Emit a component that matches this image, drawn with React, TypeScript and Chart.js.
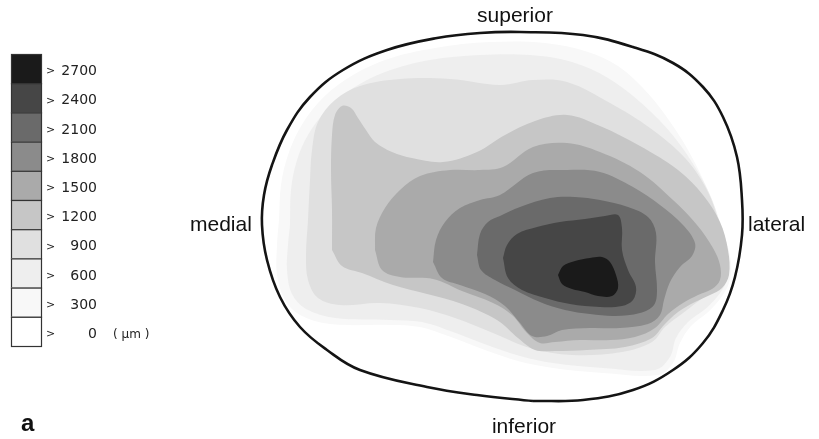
import { useEffect, useRef } from 'react';
import { Chart, registerables } from 'chart.js';

Chart.register(...registerables);

// Thickness classes (µm) shown in the key, lowest first
const levels = [0, 300, 600, 900, 1200, 1500, 1800, 2100, 2400, 2700];
const levelColors = ['#ffffff', '#f8f8f8', '#eeeeee', '#e0e0e0', '#c6c6c6', '#aaaaaa', '#8b8b8b', '#6a6a6a', '#464646', '#1a1a1a'];

// Map coordinates of the joint surface (x: medial→lateral, y: superior→inferior)
const outline: [number, number][] = [[533,401],[583,400],[633,390],[673,370],[703,343],[723,310],[735,277],[742,235],[742,200],[737,157],[723,117],[703,87],[673,63],[633,47],[583,35],[520,32],[480,33],[437,38],[387,50],[343,70],[310,97],[287,130],[272,165],[264,195],[262,225],[267,260],[280,297],[300,327],[327,350],[360,370],[427,387],[477,395]];

// Iso-thickness contours (outer boundary of each class)
const contour300: [number, number][] = [[279,220],[281,185],[288,155],[300,128],[318,103],[345,80],[385,60],[435,48],[490,42],[545,43],[588,52],[618,66],[643,88],[666,116],[688,150],[707,188],[722,228],[731,262],[729,283],[720,299],[707,313],[691,326],[680,343],[673,363],[658,375],[603,373],[553,368],[518,361],[485,350],[451,337],[420,327],[390,325],[330,324],[300,315],[285,300],[277,275],[277,245]];
const contour600: [number, number][] = [[290,225],[291,190],[297,160],[308,135],[325,112],[350,90],[385,72],[430,60],[480,55],[530,55],[572,62],[608,78],[640,102],[670,132],[695,167],[713,202],[723,237],[727,262],[726,282],[717,297],[704,310],[688,322],[676,338],[670,357],[655,370],[603,368],[553,363],[520,356],[487,345],[453,332],[422,322],[390,320],[335,318],[306,309],[292,294],[287,270],[288,245]];
const contour900: [number, number][] = [[308,220],[310,180],[312,150],[318,122],[335,100],[360,86],[400,79],[450,79],[500,85],[533,80],[567,82],[610,103],[650,128],[685,158],[707,190],[718,220],[723,250],[722,275],[713,290],[700,300],[683,313],[665,327],[652,342],[622,352],[572,355],[530,348],[493,333],[455,318],[420,308],[380,303],[340,305],[318,298],[308,280],[306,255]];
const contour1200: [number, number][] = [[332,250],[332,210],[331,170],[332,135],[335,115],[342,106],[351,108],[358,118],[366,130],[375,142],[392,152],[412,158],[443,162],[477,152],[505,135],[535,121],[567,115],[600,126],[640,146],[678,170],[703,195],[720,222],[728,250],[729,275],[722,288],[710,295],[695,302],[678,312],[664,325],[652,338],[625,347],[587,350],[555,351],[535,350],[518,338],[497,320],[462,304],[427,294],[393,285],[362,273],[342,266]];
const contour1500: [number, number][] = [[375,250],[376,228],[385,208],[400,190],[420,176],[450,170],[480,170],[503,167],[533,147],[567,143],[600,152],[640,172],[673,200],[697,225],[713,248],[720,265],[720,280],[712,289],[698,295],[683,303],[668,314],[655,328],[635,337],[610,340],[580,340],[555,342],[540,343],[527,333],[512,315],[493,303],[462,291],[433,279],[400,277],[382,270]];
const contour1800: [number, number][] = [[433,262],[436,240],[445,222],[460,208],[480,200],[500,195],[533,173],[567,170],[600,172],[633,187],[660,205],[683,225],[695,243],[692,256],[680,267],[670,282],[664,300],[660,315],[648,324],[620,328],[590,328],[562,330],[547,336],[532,336],[520,323],[505,306],[485,294],[460,285],[442,278]];
const contour2100: [number, number][] = [[477,255],[480,234],[488,222],[500,216],[520,207],[550,198],[575,197],[600,200],[628,207],[648,217],[656,233],[655,262],[657,290],[654,305],[640,313],[615,316],[590,314],[565,310],[540,302],[515,290],[495,280],[481,270]];
const contour2400: [number, number][] = [[503,258],[507,245],[517,234],[537,227],[560,222],[585,219],[605,216],[618,215],[622,228],[622,250],[628,270],[636,287],[633,300],[622,306],[600,307],[570,304],[545,298],[522,290],[508,278]];
const contour2700: [number, number][] = [[558,275],[563,266],[575,261],[590,258],[602,257],[610,262],[616,275],[618,288],[612,296],[598,296],[585,292],[572,289],[562,284]];

const contourLevels = [300, 600, 900, 1200, 1500, 1800, 2100, 2400, 2700];
const contours = [contour300, contour600, contour900, contour1200, contour1500, contour1800, contour2100, contour2400, contour2700];

const directionLabels = ['superior', 'medial', 'lateral', 'inferior'];
const unitLabel = '( µm )';
const panelLabel = 'a';

const closed = (arr: [number, number][]) => [...arr, arr[0]].map(([x, y]) => ({ x, y }));

const annotations = {
  id: 'annotations',
  afterDraw(chart: any) {
    const ctx = chart.ctx as CanvasRenderingContext2D;
    ctx.save();
    // key
    const bx = 11, bw = 30, top = 54, bh = 29.2;
    const n = levels.length;
    for (let i = 0; i < n; i++) {
      const lv = n - 1 - i;
      const y = top + i * bh;
      ctx.fillStyle = levelColors[lv];
      ctx.fillRect(bx, y, bw, bh);
      ctx.strokeStyle = '#333';
      ctx.lineWidth = 1.2;
      ctx.strokeRect(bx + 0.5, y + 0.5, bw, bh);
      ctx.fillStyle = '#222';
      ctx.textBaseline = 'middle';
      ctx.font = '11px "DejaVu Sans"';
      ctx.textAlign = 'left';
      ctx.fillText('>', 46, y + bh / 2 + 3);
      ctx.font = '14px "DejaVu Sans"';
      ctx.textAlign = 'right';
      ctx.fillText(String(levels[lv]), 97, y + bh / 2 + 3);
    }
    ctx.font = '12px "DejaVu Sans"';
    ctx.textAlign = 'left';
    ctx.fillText(unitLabel, 113, top + (n - 1) * bh + bh / 2 + 3);

    // orientation labels
    ctx.fillStyle = '#111';
    ctx.textBaseline = 'alphabetic';
    ctx.font = '21px "Liberation Sans", Arial, sans-serif';
    ctx.textAlign = 'center';
    ctx.fillText(directionLabels[0], 515, 22);
    ctx.fillText(directionLabels[3], 524, 433);
    ctx.textAlign = 'left';
    ctx.fillText(directionLabels[1], 190, 231);
    ctx.fillText(directionLabels[2], 748, 231);
    ctx.font = 'bold 24px "Liberation Sans", Arial, sans-serif';
    ctx.fillText(panelLabel, 21, 431);
    ctx.restore();
  },
};

export default function App() {
  const ref = useRef<HTMLCanvasElement>(null);
  useEffect(() => {
    if (!ref.current) return;
    const fills = contours.map((c, i) => ({
      label: `> ${contourLevels[i]}`,
      data: closed(c),
      showLine: true,
      fill: 'shape',
      backgroundColor: levelColors[i + 1],
      borderColor: levelColors[i + 1],
      borderWidth: 0,
      pointRadius: 0,
      tension: 0.35,
    }));
    const border = {
      label: 'outline',
      data: closed(outline),
      showLine: true,
      fill: false,
      borderColor: '#141414',
      borderWidth: 2.6,
      pointRadius: 0,
      tension: 0.4,
    };
    // dataset 0 is painted last (on top), so list from top to bottom
    const datasets: any[] = [border, ...fills.reverse()];
    const chart = new Chart(ref.current, {
      type: 'scatter',
      data: { datasets },
      options: {
        animation: false,
        responsive: false,
        events: [],
        layout: { padding: 0 },
        scales: {
          x: { type: 'linear', min: 0, max: 819, display: false },
          y: { type: 'linear', min: 0, max: 439, reverse: true, display: false },
        },
        plugins: { legend: { display: false }, tooltip: { enabled: false } },
      },
      plugins: [annotations],
    } as any);
    return () => chart.destroy();
  }, []);
  return (
    <div style={{ position: 'absolute', left: 0, top: 0, width: 819, height: 439, background: '#fff' }}>
      <canvas ref={ref} width={819} height={439} style={{ display: 'block' }} />
    </div>
  );
}
